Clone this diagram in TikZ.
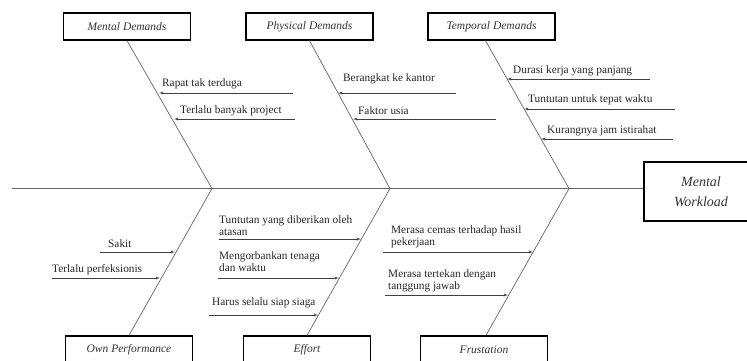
\documentclass[tikz,border=0pt]{standalone}
\usepackage{fontspec}
\setmainfont{Liberation Serif}
\usetikzlibrary{arrows}

\begin{document}
\begin{tikzpicture}[x=1pt,y=-1pt]
\tikzset{factor/.style = {draw=black, line width=1.3pt, minimum width=127pt, minimum height=27pt, inner sep=0pt, text=black!80, font=\fontsize{11.5}{13}\selectfont\itshape}}
\tikzset{bone/.style = {draw=black!60, line width=0.7pt}}
\tikzset{cause/.style = {->, > = latex', draw=black!75, line width=0.5pt}}
\tikzset{reason/.style = {anchor=west, inner sep=0pt, align=left, text=black!85, font=\fontsize{11.3}{12}\selectfont}}
% frame
\fill[white] (0,0) rectangle (747,360);
\path[use as bounding box, clip] (0,0) rectangle (747,360);
% categories
\node[factor] (md) at (127,26.5) {Mental Demands};
\node[factor] (pd) at (309.5,26.5) {Physical Demands};
\node[factor] (td) at (491.5,26.5) {Temporal Demands};
\node[factor] (op) at (129,349.5) {Own Performance};
\node[factor] (ef) at (307,349.5) {Effort};
\node[factor] (fr) at (484,349.5) {Frustation};
\node[factor, minimum width=114pt, minimum height=59pt, align=center, font=\fontsize{14}{20}\selectfont\itshape] (mw) at (701,191.5) {Mental\\Workload};
% spine and bones
\coordinate (tail) at (12,188.5);
\coordinate (j1) at (212,188.5);
\coordinate (j2) at (390,188.5);
\coordinate (j3) at (569,188.5);
\draw[bone] (tail) -- (tail -| mw.west);
\draw[bone] (md.south) -- (j1) -- (op.north);
\draw[bone] (pd.south) -- (j2) -- (ef.north);
\draw[bone] ([xshift=-6pt]td.south) -- (j3) -- ([xshift=2pt]fr.north);
% mental demands
\node[reason] (rapat) at (162,84) {Rapat tak terduga};
\node[reason] (project) at (180,111) {Terlalu banyak project};
\coordinate (rapat-s) at (293,93);
\coordinate (rapat-e) at (159,93);
\coordinate (project-s) at (295,119);
\coordinate (project-e) at (174,119);
\draw[cause] (rapat-s) -- (rapat-e);
\draw[cause] (project-s) -- (project-e);
% physical demands
\node[reason] (kantor) at (343,79) {Berangkat ke kantor};
\node[reason] (usia) at (358,111) {Faktor usia};
\coordinate (kantor-s) at (456,93);
\coordinate (kantor-e) at (338,93);
\coordinate (usia-s) at (496,119);
\coordinate (usia-e) at (353,119);
\draw[cause] (kantor-s) -- (kantor-e);
\draw[cause] (usia-s) -- (usia-e);
% temporal demands
\node[reason] (durasi) at (513,71) {Durasi kerja yang panjang};
\node[reason] (tepat) at (528,100) {Tuntutan untuk tepat waktu};
\node[reason] (istirahat) at (547,131) {Kurangnya jam istirahat};
\coordinate (durasi-s) at (650,79);
\coordinate (durasi-e) at (507,79);
\coordinate (tepat-s) at (675,109);
\coordinate (tepat-e) at (524,109);
\coordinate (istirahat-s) at (673,139);
\coordinate (istirahat-e) at (541,139);
\draw[cause] (durasi-s) -- (durasi-e);
\draw[cause] (tepat-s) -- (tepat-e);
\draw[cause] (istirahat-s) -- (istirahat-e);
% own performance
\node[reason] (sakit) at (108,244) {Sakit};
\node[reason] (perfek) at (52,270) {Terlalu perfeksionis};
\coordinate (sakit-s) at (100,252);
\coordinate (sakit-e) at (175,252);
\coordinate (perfek-s) at (52,278);
\coordinate (perfek-e) at (160,278);
\draw[cause] (sakit-s) -- (sakit-e);
\draw[cause] (perfek-s) -- (perfek-e);
% effort
\node[reason] (atasan) at (219,226) {Tuntutan yang diberikan oleh\\atasan};
\node[reason] (tenaga) at (219,262) {Mengorbankan tenaga\\dan waktu};
\node[reason] (siaga) at (212,303) {Harus selalu siap siaga};
\coordinate (atasan-s) at (219,239);
\coordinate (atasan-e) at (361,239);
\coordinate (tenaga-s) at (218,278);
\coordinate (tenaga-e) at (339,278);
\coordinate (siaga-s) at (209,315);
\coordinate (siaga-e) at (318,315);
\draw[cause] (atasan-s) -- (atasan-e);
\draw[cause] (tenaga-s) -- (tenaga-e);
\draw[cause] (siaga-s) -- (siaga-e);
% frustation
\node[reason] (cemas) at (391,237) {Merasa cemas terhadap hasil\\pekerjaan};
\node[reason] (tertekan) at (388,281) {Merasa tertekan dengan\\tanggung jawab};
\coordinate (cemas-s) at (383,252);
\coordinate (cemas-e) at (533,252);
\coordinate (tertekan-s) at (385,295);
\coordinate (tertekan-e) at (508,295);
\draw[cause] (cemas-s) -- (cemas-e);
\draw[cause] (tertekan-s) -- (tertekan-e);
\end{tikzpicture}
\end{document}
